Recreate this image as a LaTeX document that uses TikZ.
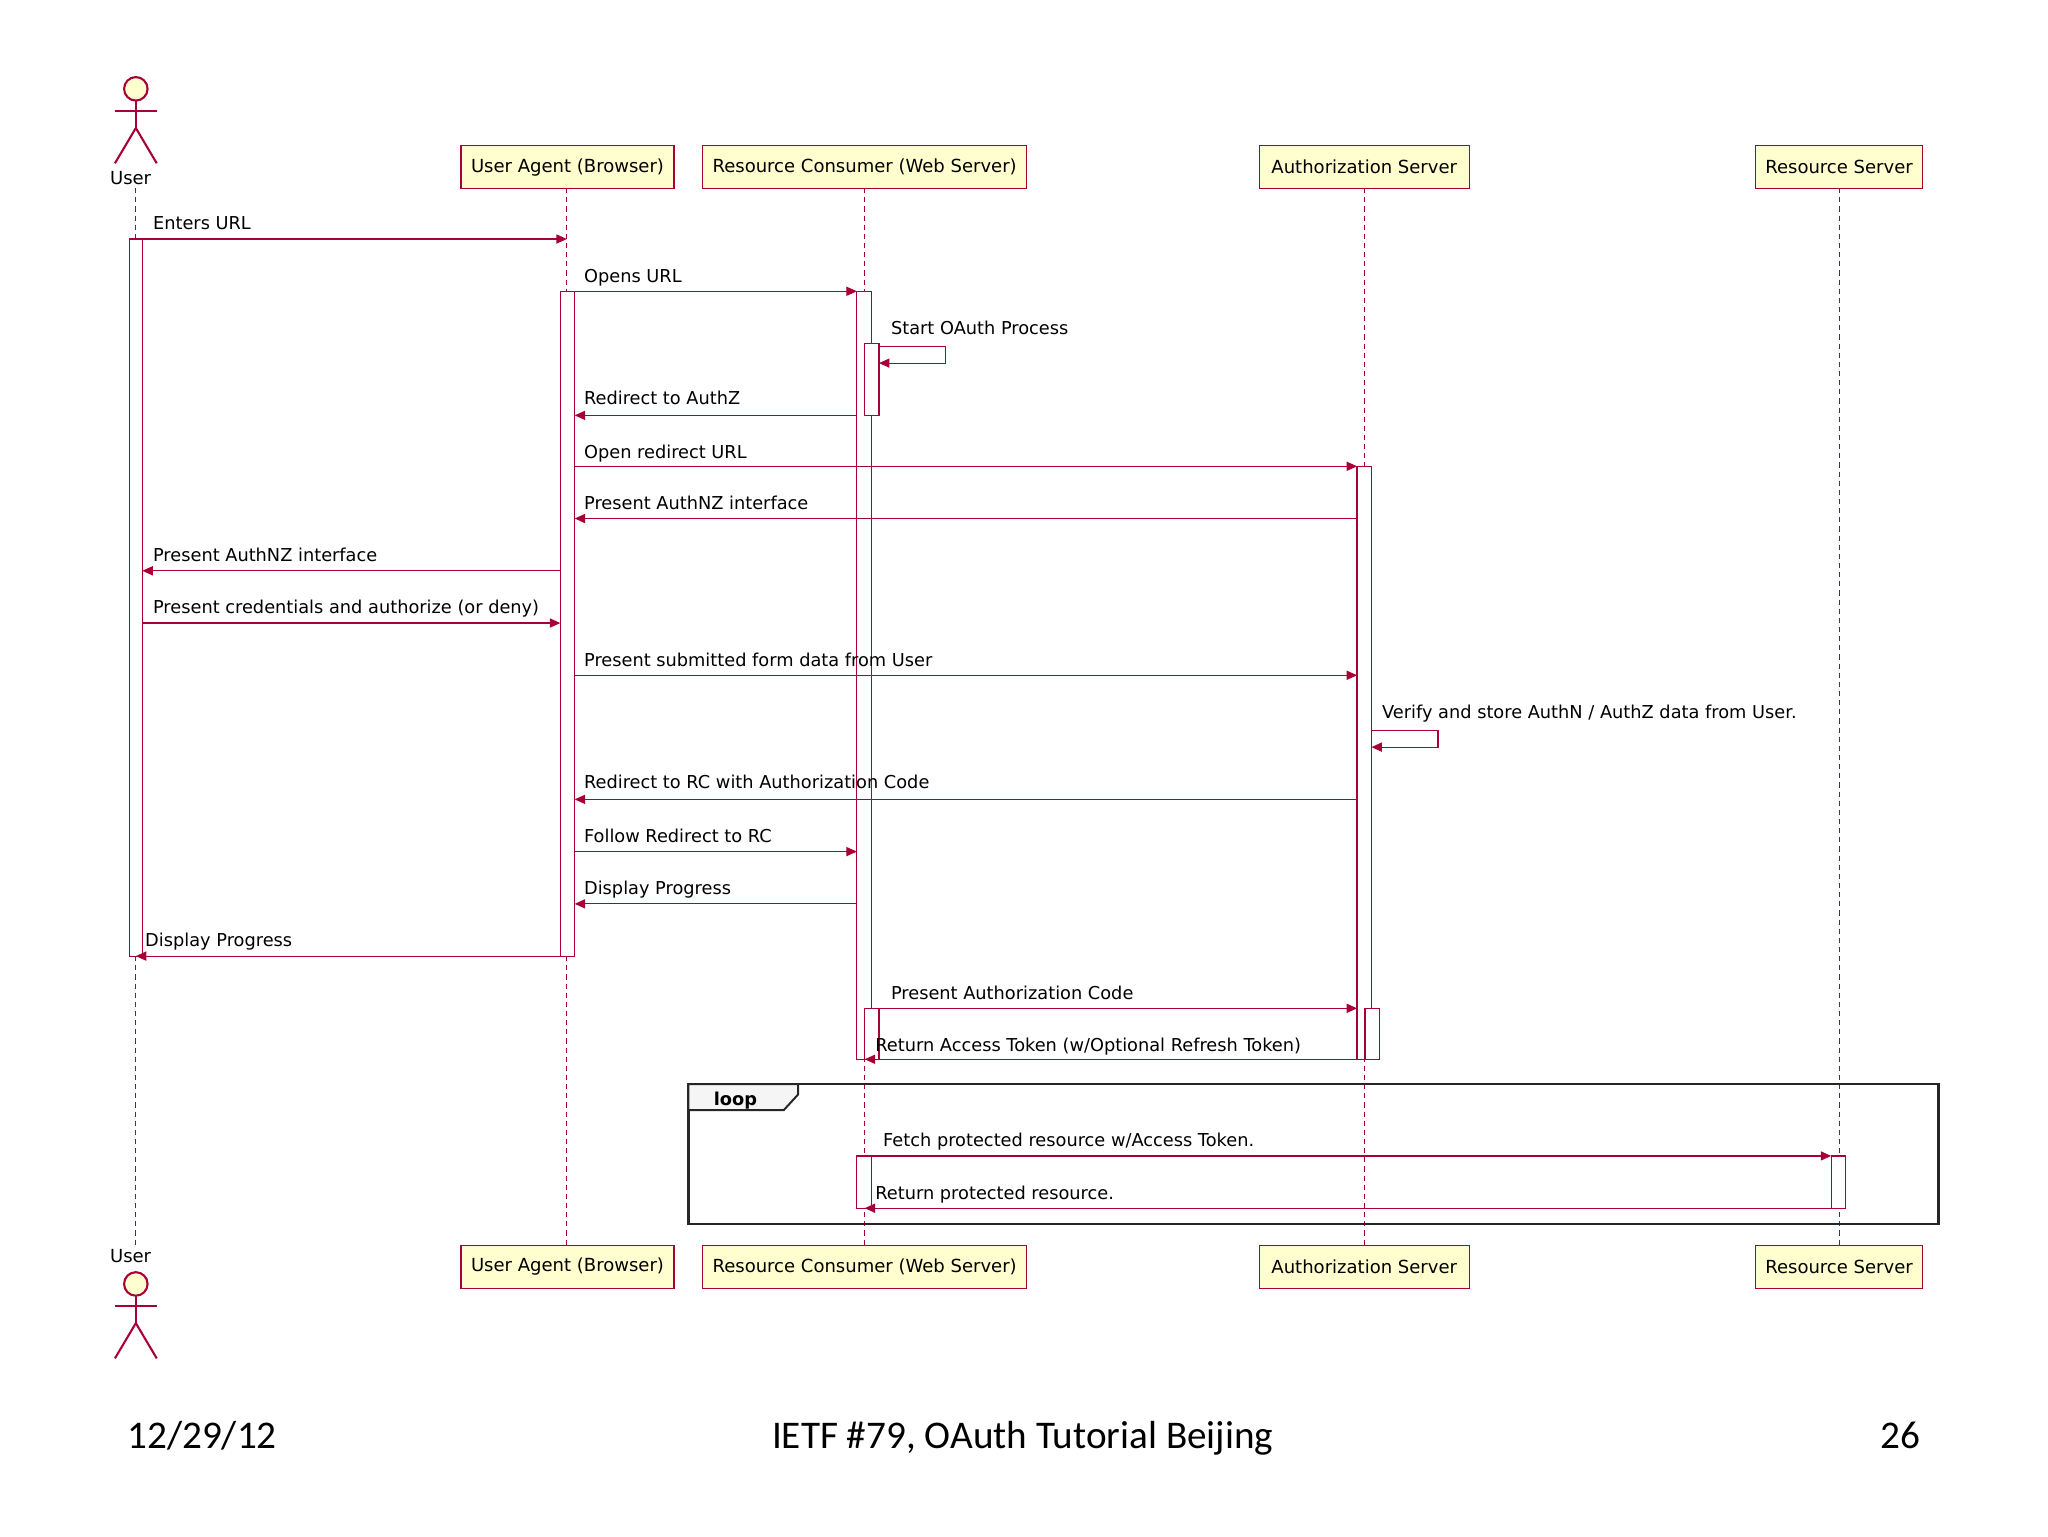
\documentclass[tikz,border=0pt]{standalone}
\usepackage{fontspec}
\setmainfont{DejaVu Sans}
\newfontfamily\footfont{Carlito}
\usetikzlibrary{arrows.meta}
\definecolor{pu}{HTML}{A80036}
\definecolor{pbox}{HTML}{FEFECE}
\tikzset{
  part/.style={draw=pu,fill=pbox,line width=0.9pt,inner sep=0pt,font=\fontsize{13.8}{16}\selectfont},
  life/.style={draw=pu,dash pattern=on 4pt off 3pt,line width=0.8pt},
  act/.style={draw=pu,fill=white,line width=0.9pt},
  msg/.style={draw=pu,line width=0.9pt,-{Triangle[length=8pt,width=7pt]}},
  lbl/.style={anchor=base west,inner sep=0pt,font=\fontsize{13.6}{15}\selectfont},
  actor/.style={draw=pu,line width=1.6pt}
}
\begin{document}
\begin{tikzpicture}[x=1pt,y=-1pt]
\useasboundingbox (0,0) rectangle (1568,1176);
% lifelines
\draw[life] (104,144) -- (104,955);
\draw[life] (434,144) -- (434,953);
\draw[life] (662,144) -- (662,953);
\draw[life] (1045,144) -- (1045,953);
\draw[life] (1408,144) -- (1408,953);
% participants
\foreach \y/\s in {111/t,953/b}{
 \node[part,minimum width=163pt,minimum height=33pt,anchor=north] (ua\s) at (434.5,\y) {User Agent (Browser)};
 \node[part,minimum width=248pt,minimum height=33pt,anchor=north] (rc\s) at (662,\y) {Resource Consumer (Web Server)};
 \node[part,minimum width=161pt,minimum height=33pt,anchor=north] (as\s) at (1044.5,\y) {Authorization Server};
 \node[part,minimum width=128pt,minimum height=33pt,anchor=north] (rs\s) at (1408,\y) {Resource Server};
}
% actors
\foreach \h/\s in {68/t,983/b}{
 \draw[actor,fill=pbox] (104,\h) circle (9);
 \draw[actor] (104,\h+9) -- (104,\h+30) (88,\h+17) -- (120,\h+17);
 \draw[actor] (88,\h+57) -- (104,\h+30) -- (120,\h+57);
}
\node[font=\fontsize{13.8}{16}\selectfont] (usert) at (100,136) {User};
\node[font=\fontsize{13.8}{16}\selectfont] (userb) at (100,962) {User};
% activations
\draw[act] (99,183) rectangle (109,732);
\draw[act] (429,223) rectangle (440,732);
\draw[act] (656,223) rectangle (667,811);
\draw[act] (662,263) rectangle (673,318);
\draw[act] (1039,357) rectangle (1050,811);
\draw[act] (662,772) rectangle (673,811);
\draw[act] (1045,772) rectangle (1056,811);
% messages
\draw[msg] (109,183) -- (434,183); \node[lbl] at (117,176) {Enters URL};
\draw[msg] (440,223) -- (656,223); \node[lbl] at (447,216) {Opens URL};
\draw[msg] (673,265) -- (724,265) -- (724,278) -- (673,278); \node[lbl] at (682,256) {Start OAuth Process};
\draw[msg] (656,318) -- (440,318); \node[lbl] at (447,310) {Redirect to AuthZ};
\draw[msg] (440,357) -- (1039,357); \node[lbl] at (447,351) {Open redirect URL};
\draw[msg] (1039,397) -- (440,397); \node[lbl] at (447,390) {Present AuthNZ interface};
\draw[msg] (429,437) -- (109,437); \node[lbl] at (117,430) {Present AuthNZ interface};
\draw[msg] (109,477) -- (429,477); \node[lbl] at (117,470) {Present credentials and authorize (or deny)};
\draw[msg] (440,517) -- (1039,517); \node[lbl] at (447,510) {Present submitted form data from User};
\draw[msg] (1050,559) -- (1101,559) -- (1101,572) -- (1050,572); \node[lbl] at (1058,550) {Verify and store AuthN / AuthZ data from User.};
\draw[msg] (1039,612) -- (440,612); \node[lbl] at (447,604) {Redirect to RC with Authorization Code};
\draw[msg] (440,652) -- (656,652); \node[lbl] at (447,645) {Follow Redirect to RC};
\draw[msg] (656,692) -- (440,692); \node[lbl] at (447,685) {Display Progress};
\draw[msg] (429,732) -- (104,732); \node[lbl] at (111,725) {Display Progress};
\draw[msg] (673,772) -- (1039,772); \node[lbl] at (682,765) {Present Authorization Code};
\draw[msg] (1045,811) -- (662,811); \node[lbl] at (670,805) {Return Access Token (w/Optional Refresh Token)};
% loop
\draw[line width=2pt,black!85] (527,830) rectangle (1484,937);
\draw[line width=1.5pt,black!85,fill=gray!8] (527,830) -- (611,830) -- (611,838) -- (600,850) -- (527,850) -- cycle;
\node[anchor=base west,font=\bfseries\fontsize{13.6}{15}\selectfont] (loop) at (543,846) {loop};
\draw[act] (656,885) rectangle (667,925);
\draw[act] (1402,885) rectangle (1413,925);
\draw[msg] (667,885) -- (1402,885); \node[lbl] at (676,878) {Fetch protected resource w/Access Token.};
\draw[msg] (1402,925) -- (662,925); \node[lbl] at (670,918) {Return protected resource.};
% footer
\node[anchor=base west,font=\footfont\fontsize{30}{34}\selectfont] (d) at (94,1109) {12/29/12};
\node[anchor=base,font=\footfont\fontsize{30}{34}\selectfont] (t) at (783,1109) {IETF \#79, OAuth Tutorial Beijing};
\node[anchor=base east,font=\footfont\fontsize{30}{34}\selectfont] (n) at (1474,1109) {26};
\end{tikzpicture}
\end{document}
